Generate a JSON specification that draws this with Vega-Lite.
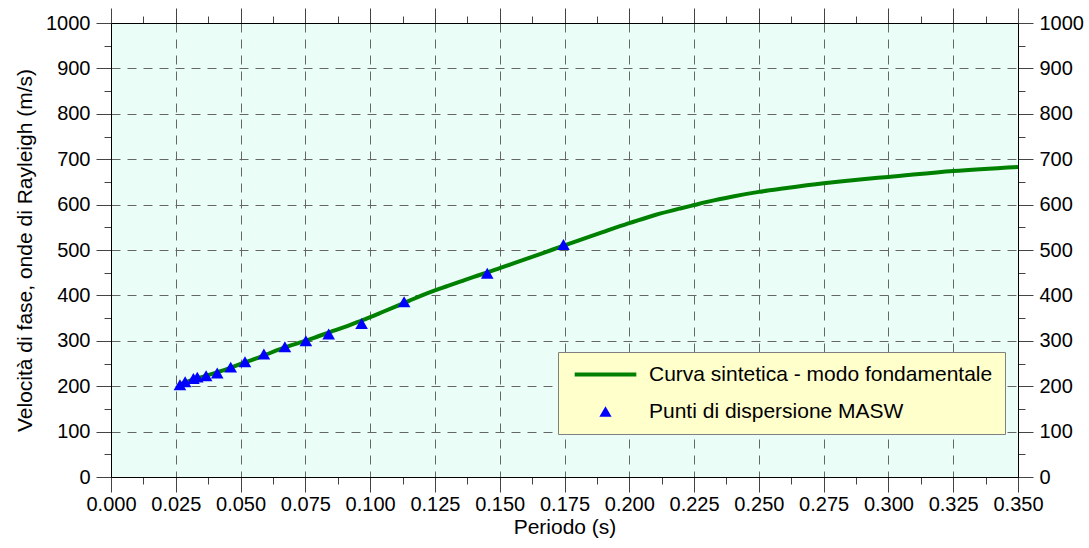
{
  "$schema": "https://vega.github.io/schema/vega-lite/v6.json",
  "width": 907,
  "height": 454,
  "autosize": {"type": "none"},
  "padding": {"left": 111, "top": 23, "right": 71, "bottom": 71},
  "background": "#ffffff",
  "config": {
    "view": {"fill": "#EAFDF7", "stroke": "#000000", "strokeWidth": 1},
    "font": "Liberation Sans",
    "axis": {
      "labelFont": "Liberation Sans",
      "titleFont": "Liberation Sans",
      "labelFontSize": 20,
      "titleFontSize": 21,
      "labelColor": "#000000",
      "titleColor": "#000000",
      "titleFontWeight": "normal",
      "domainColor": "#000000",
      "tickColor": "#444444",
      "gridColor": "#666666",
      "gridDash": [9, 7],
      "gridWidth": 1
    },
    "legend": {
      "labelFont": "Liberation Sans"
    }
  },
  "datasets": {
    "curve": [
      {"periodo": 0.0266, "vel": 204, "serie": "Curva sintetica - modo fondamentale"},
      {"periodo": 0.030, "vel": 211, "serie": "Curva sintetica - modo fondamentale"},
      {"periodo": 0.035, "vel": 220, "serie": "Curva sintetica - modo fondamentale"},
      {"periodo": 0.040, "vel": 229, "serie": "Curva sintetica - modo fondamentale"},
      {"periodo": 0.045, "vel": 238, "serie": "Curva sintetica - modo fondamentale"},
      {"periodo": 0.050, "vel": 249, "serie": "Curva sintetica - modo fondamentale"},
      {"periodo": 0.055, "vel": 259, "serie": "Curva sintetica - modo fondamentale"},
      {"periodo": 0.060, "vel": 270, "serie": "Curva sintetica - modo fondamentale"},
      {"periodo": 0.065, "vel": 281, "serie": "Curva sintetica - modo fondamentale"},
      {"periodo": 0.070, "vel": 291, "serie": "Curva sintetica - modo fondamentale"},
      {"periodo": 0.075, "vel": 300, "serie": "Curva sintetica - modo fondamentale"},
      {"periodo": 0.080, "vel": 310, "serie": "Curva sintetica - modo fondamentale"},
      {"periodo": 0.085, "vel": 320, "serie": "Curva sintetica - modo fondamentale"},
      {"periodo": 0.090, "vel": 330, "serie": "Curva sintetica - modo fondamentale"},
      {"periodo": 0.095, "vel": 341, "serie": "Curva sintetica - modo fondamentale"},
      {"periodo": 0.100, "vel": 352, "serie": "Curva sintetica - modo fondamentale"},
      {"periodo": 0.105, "vel": 364, "serie": "Curva sintetica - modo fondamentale"},
      {"periodo": 0.110, "vel": 376, "serie": "Curva sintetica - modo fondamentale"},
      {"periodo": 0.115, "vel": 388, "serie": "Curva sintetica - modo fondamentale"},
      {"periodo": 0.120, "vel": 400, "serie": "Curva sintetica - modo fondamentale"},
      {"periodo": 0.125, "vel": 411, "serie": "Curva sintetica - modo fondamentale"},
      {"periodo": 0.130, "vel": 421, "serie": "Curva sintetica - modo fondamentale"},
      {"periodo": 0.135, "vel": 431, "serie": "Curva sintetica - modo fondamentale"},
      {"periodo": 0.140, "vel": 441, "serie": "Curva sintetica - modo fondamentale"},
      {"periodo": 0.145, "vel": 450, "serie": "Curva sintetica - modo fondamentale"},
      {"periodo": 0.150, "vel": 460, "serie": "Curva sintetica - modo fondamentale"},
      {"periodo": 0.155, "vel": 470, "serie": "Curva sintetica - modo fondamentale"},
      {"periodo": 0.160, "vel": 480, "serie": "Curva sintetica - modo fondamentale"},
      {"periodo": 0.165, "vel": 490, "serie": "Curva sintetica - modo fondamentale"},
      {"periodo": 0.170, "vel": 500, "serie": "Curva sintetica - modo fondamentale"},
      {"periodo": 0.175, "vel": 510, "serie": "Curva sintetica - modo fondamentale"},
      {"periodo": 0.180, "vel": 520, "serie": "Curva sintetica - modo fondamentale"},
      {"periodo": 0.185, "vel": 530, "serie": "Curva sintetica - modo fondamentale"},
      {"periodo": 0.190, "vel": 540, "serie": "Curva sintetica - modo fondamentale"},
      {"periodo": 0.195, "vel": 550, "serie": "Curva sintetica - modo fondamentale"},
      {"periodo": 0.200, "vel": 559, "serie": "Curva sintetica - modo fondamentale"},
      {"periodo": 0.210, "vel": 577, "serie": "Curva sintetica - modo fondamentale"},
      {"periodo": 0.220, "vel": 592, "serie": "Curva sintetica - modo fondamentale"},
      {"periodo": 0.225, "vel": 599, "serie": "Curva sintetica - modo fondamentale"},
      {"periodo": 0.230, "vel": 606, "serie": "Curva sintetica - modo fondamentale"},
      {"periodo": 0.240, "vel": 618, "serie": "Curva sintetica - modo fondamentale"},
      {"periodo": 0.250, "vel": 628, "serie": "Curva sintetica - modo fondamentale"},
      {"periodo": 0.260, "vel": 636, "serie": "Curva sintetica - modo fondamentale"},
      {"periodo": 0.275, "vel": 647, "serie": "Curva sintetica - modo fondamentale"},
      {"periodo": 0.290, "vel": 656, "serie": "Curva sintetica - modo fondamentale"},
      {"periodo": 0.300, "vel": 661, "serie": "Curva sintetica - modo fondamentale"},
      {"periodo": 0.325, "vel": 674, "serie": "Curva sintetica - modo fondamentale"},
      {"periodo": 0.350, "vel": 683, "serie": "Curva sintetica - modo fondamentale"}
    ],
    "points": [
      {"periodo": 0.0266, "vel": 203, "serie": "Punti di dispersione MASW"},
      {"periodo": 0.0286, "vel": 210, "serie": "Punti di dispersione MASW"},
      {"periodo": 0.0318, "vel": 217, "serie": "Punti di dispersione MASW"},
      {"periodo": 0.0333, "vel": 220, "serie": "Punti di dispersione MASW"},
      {"periodo": 0.0367, "vel": 223, "serie": "Punti di dispersione MASW"},
      {"periodo": 0.0410, "vel": 229, "serie": "Punti di dispersione MASW"},
      {"periodo": 0.0462, "vel": 242, "serie": "Punti di dispersione MASW"},
      {"periodo": 0.0517, "vel": 254, "serie": "Punti di dispersione MASW"},
      {"periodo": 0.0590, "vel": 271, "serie": "Punti di dispersione MASW"},
      {"periodo": 0.0671, "vel": 287, "serie": "Punti di dispersione MASW"},
      {"periodo": 0.0752, "vel": 300, "serie": "Punti di dispersione MASW"},
      {"periodo": 0.0840, "vel": 315, "serie": "Punti di dispersione MASW"},
      {"periodo": 0.0967, "vel": 338, "serie": "Punti di dispersione MASW"},
      {"periodo": 0.1131, "vel": 386, "serie": "Punti di dispersione MASW"},
      {"periodo": 0.1452, "vel": 449, "serie": "Punti di dispersione MASW"},
      {"periodo": 0.1746, "vel": 512, "serie": "Punti di dispersione MASW"}
    ]
  },
  "resolve": {"axis": {"x": "independent", "y": "independent"}},
  "layer": [
    {
      "data": {"name": "curve"},
      "mark": {"type": "line", "strokeWidth": 4, "clip": true, "interpolate": "monotone"},
      "encoding": {
        "x": {
          "field": "periodo", "type": "quantitative",
          "scale": {"domain": [0, 0.35], "nice": false, "zero": false},
          "axis": {
            "orient": "bottom", "title": "Periodo (s)",
            "values": [0, 0.0125, 0.025, 0.0375, 0.05, 0.0625, 0.075, 0.0875, 0.1, 0.1125, 0.125, 0.1375, 0.15, 0.1625, 0.175, 0.1875, 0.2, 0.2125, 0.225, 0.2375, 0.25, 0.2625, 0.275, 0.2875, 0.3, 0.3125, 0.325, 0.3375, 0.35],
            "format": ".3f",
            "labelExpr": "abs(datum.value*40 - round(datum.value*40)) < 0.001 ? datum.label : ''",
            "tickSize": {"condition": {"test": "abs(datum.value*40 - round(datum.value*40)) < 0.001", "value": 15}, "value": 7},
            "labelPadding": 2,
            "titlePadding": 2,
            "grid": true,
            "gridOpacity": {"condition": {"test": "abs(datum.value*40 - round(datum.value*40)) < 0.001 && datum.value > 0.001 && datum.value < 0.349", "value": 1}, "value": 0},
            "labelFlush": false
          }
        },
        "y": {
          "field": "vel", "type": "quantitative",
          "scale": {"domain": [0, 1000], "nice": false},
          "axis": {
            "orient": "left", "title": "Velocità di fase, onde di Rayleigh (m/s)",
            "values": [0, 50, 100, 150, 200, 250, 300, 350, 400, 450, 500, 550, 600, 650, 700, 750, 800, 850, 900, 950, 1000],
            "format": "d",
            "labelExpr": "datum.value % 100 == 0 ? datum.label : ''",
            "tickSize": {"condition": {"test": "datum.value % 100 == 0", "value": 15}, "value": 7},
            "labelPadding": 6,
            "titlePadding": 10,
            "grid": true,
            "gridOpacity": {"condition": {"test": "datum.value % 100 == 0 && datum.value > 0 && datum.value < 1000", "value": 1}, "value": 0},
            "labelFlush": false
          }
        },
        "color": {
          "field": "serie", "type": "nominal",
          "scale": {"domain": ["Curva sintetica - modo fondamentale", "Punti di dispersione MASW"], "range": ["#008000", "#0000FF"]},
          "legend": {
            "title": null,
            "orient": "none",
            "legendX": 447,
            "legendY": 329,
            "fillColor": "#FFFFCC",
            "strokeColor": "#808080",
            "padding": 12,
            "labelFontSize": 21,
            "labelLimit": 0,
            "labelColor": "#000000",
            "rowPadding": 15,
            "symbolSize": 140,
            "symbolOffset": 25,
            "labelOffset": 33,
            "symbolStrokeWidth": 0,
            "encode": {
              "symbols": {
                "update": {
                  "shape": {"signal": "datum.value === 'Curva sintetica - modo fondamentale' ? 'stroke' : 'triangle-up'"},
                  "size": {"signal": "datum.value === 'Curva sintetica - modo fondamentale' ? 3800 : 150"},
                  "strokeWidth": {"signal": "datum.value === 'Curva sintetica - modo fondamentale' ? 4 : 0"},
                  "stroke": {"signal": "datum.value === 'Curva sintetica - modo fondamentale' ? '#008000' : '#0000FF'"},
                  "fill": {"signal": "datum.value === 'Curva sintetica - modo fondamentale' ? 'transparent' : '#0000FF'"},
                  "opacity": {"value": 1}
                }
              }
            }
          }
        }
      }
    },
    {
      "data": {"name": "points"},
      "mark": {"type": "point", "shape": "triangle-up", "filled": true, "size": 160, "opacity": 1},
      "encoding": {
        "x": {
          "field": "periodo", "type": "quantitative",
          "axis": {
            "orient": "top", "title": null, "labels": false,
            "values": [0, 0.0125, 0.025, 0.0375, 0.05, 0.0625, 0.075, 0.0875, 0.1, 0.1125, 0.125, 0.1375, 0.15, 0.1625, 0.175, 0.1875, 0.2, 0.2125, 0.225, 0.2375, 0.25, 0.2625, 0.275, 0.2875, 0.3, 0.3125, 0.325, 0.3375, 0.35],
            "tickSize": {"condition": {"test": "abs(datum.value*40 - round(datum.value*40)) < 0.001", "value": 15}, "value": 7},
            "grid": false
          }
        },
        "y": {
          "field": "vel", "type": "quantitative",
          "axis": {
            "orient": "right", "title": null,
            "values": [0, 50, 100, 150, 200, 250, 300, 350, 400, 450, 500, 550, 600, 650, 700, 750, 800, 850, 900, 950, 1000],
            "format": "d",
            "labelExpr": "datum.value % 100 == 0 ? datum.label : ''",
            "tickSize": {"condition": {"test": "datum.value % 100 == 0", "value": 15}, "value": 7},
            "labelPadding": 6,
            "grid": false,
            "labelFlush": false
          }
        },
        "color": {"field": "serie", "type": "nominal"}
      }
    }
  ]
}
